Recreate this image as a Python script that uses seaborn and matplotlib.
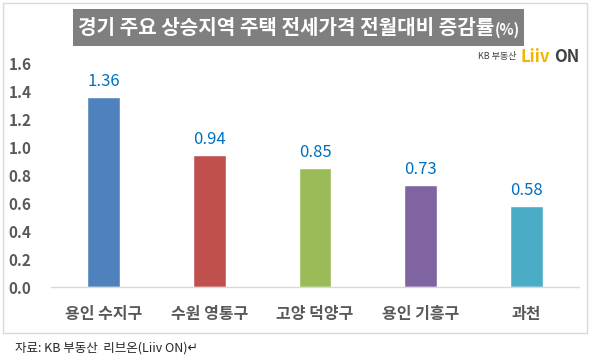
import pandas as pd
import matplotlib.pyplot as plt
from matplotlib.patches import Rectangle
import seaborn as sns

# Data
regions = ['용인 수지구', '수원 영통구', '고양 덕양구', '용인 기흥구', '과천']
values = [1.36, 0.94, 0.85, 0.73, 0.58]
colors = ['#4f81bd', '#c0504d', '#9bbb59', '#8064a2', '#4bacc6']
yticks = [0.0, 0.2, 0.4, 0.6, 0.8, 1.0, 1.2, 1.4, 1.6]

df = pd.DataFrame({'region': regions, 'value': values})

sns.set_style('white')
plt.rcParams['font.family'] = ['Noto Sans CJK KR', 'DejaVu Sans']

fig = plt.figure(figsize=(5.93, 3.58), dpi=100)
ax = fig.add_axes([51 / 593, 1 - 287 / 358, 528 / 593, 224 / 358])

sns.barplot(data=df, x='region', y='value', hue='region', palette=colors,
            legend=False, width=0.31, ax=ax, saturation=1)

for i, v in enumerate(values):
    ax.text(i, v + 0.05, f'{v:.2f}', ha='center', va='bottom',
            color='#0070c0', fontsize=12)

ax.set_ylim(0, 1.6)
ax.set_yticks(yticks)
ax.set_yticklabels([f'{t:.1f}' for t in yticks], fontweight='bold', color='#595959', fontsize=11)
ax.set_xticks(range(len(regions)))
ax.set_xticklabels(regions, fontweight='bold', color='#595959', fontsize=11.5)
ax.tick_params(axis='both', length=0)
ax.tick_params(axis='y', pad=14)
ax.tick_params(axis='x', pad=14)
ax.set_xlabel('')
ax.set_ylabel('')
for s in ['top', 'right', 'left']:
    ax.spines[s].set_visible(False)
ax.spines['bottom'].set_color('#d9d9d9')
ax.spines['bottom'].set_linewidth(1)

# outer border
fig.patches.append(Rectangle((3 / 593, 1 - 333 / 358), 584 / 593, 330 / 358,
                             transform=fig.transFigure, fill=False,
                             edgecolor='#d9d9d9', linewidth=1))

# title box
fig.patches.append(Rectangle((73 / 593, 1 - 46 / 358), 451 / 593, 37 / 358,
                             transform=fig.transFigure, facecolor='#7f7f7f',
                             edgecolor='none'))
title = fig.text(78 / 593, 1 - 28 / 358, '경기 주요 상승지역 주택 전세가격 전월대비 증감률',
                 color='white', fontsize=14.5, fontweight='bold', va='center', ha='left')
fig.canvas.draw()
bb = title.get_window_extent()
fig.text((bb.x1 + 1) / 593, 1 - 30 / 358, '(%)', color='white', fontsize=10.5,
         fontweight='bold', va='center', ha='left')

# logo
fig.text(478 / 593, 1 - 57 / 358, 'KB 부동산', color='#404040', fontsize=6.5,
         va='center', ha='left')
fig.text(520 / 593, 1 - 57 / 358, 'Liiv', color='#f5b400', fontsize=12,
         fontweight='bold', va='center', ha='left')
fig.text(554 / 593, 1 - 57 / 358, 'ON', color='#404040', fontsize=12,
         fontweight='bold', va='center', ha='left')

# source
fig.text(15 / 593, 1 - 348 / 358, '자료: KB 부동산  리브온(Liiv ON)↵', color='#262626',
         fontsize=9, va='center', ha='left')

fig.savefig('out.png', dpi=100)
